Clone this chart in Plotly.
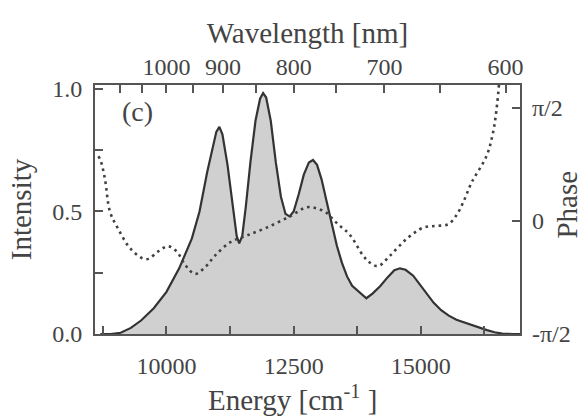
import plotly.graph_objects as go

# Intensity spectrum (energy in cm^-1, normalized intensity)
energy_int = [8700, 8900, 9100, 9300, 9500, 9750, 10000, 10250, 10500, 10650, 10800, 10900,
              10980, 11040, 11100, 11200, 11300, 11380, 11430, 11490, 11560, 11650, 11750,
              11840, 11900, 11960, 12050, 12150, 12250, 12340, 12420, 12500, 12600, 12700,
              12800, 12880, 12960, 13050, 13150, 13250, 13350, 13450, 13550, 13650, 13800,
              13930, 14050, 14200, 14350, 14480, 14590, 14700, 14850, 15000, 15100, 15250,
              15400, 15550, 15700, 15850, 16000, 16150, 16300, 16450, 16600, 16800, 16950]
intensity = [0.0, 0.0, 0.005, 0.025, 0.055, 0.105, 0.172, 0.268, 0.39, 0.5, 0.66, 0.76,
             0.825, 0.845, 0.815, 0.69, 0.52, 0.40, 0.37, 0.40, 0.52, 0.70, 0.87,
             0.96, 0.983, 0.965, 0.87, 0.70, 0.56, 0.49, 0.48, 0.50, 0.57, 0.65,
             0.70, 0.71, 0.69, 0.63, 0.54, 0.45, 0.36, 0.29, 0.235, 0.197, 0.168,
             0.146, 0.165, 0.195, 0.232, 0.26, 0.268, 0.262, 0.238, 0.198, 0.168, 0.128,
             0.097, 0.075, 0.058, 0.047, 0.038, 0.028, 0.016, 0.007, 0.002, 0.0, 0.0]

# Spectral phase (in units of pi/2)
energy_ph = [8660, 8700, 8790, 8890, 9050, 9300, 9600, 9840, 10030, 10200, 10370, 10560,
             10780, 10950, 11250, 11580, 11970, 12430, 12760, 12950, 13150, 13300, 13450,
             13600, 13870, 14000, 14160, 14390, 14720, 15050, 15300, 15540, 15700, 15830,
             16000, 16290, 16420, 16490, 16540]
phase = [0.57, 0.54, 0.37, 0.08, -0.07, -0.25, -0.34, -0.27, -0.225, -0.27, -0.39, -0.47,
         -0.40, -0.31, -0.19, -0.13, -0.06, 0.04, 0.12, 0.11, 0.07, 0.0, -0.06,
         -0.12, -0.31, -0.37, -0.40, -0.31, -0.16, -0.06, -0.045, -0.03, 0.05, 0.16,
         0.34, 0.57, 0.78, 0.99, 1.22]

# Axis ticks
energy_ticks = [8750, 10000, 11250, 12500, 13750, 15000, 16250]
energy_labels = ["", "10000", "", "12500", "", "15000", ""]
wl_ticks = [1100, 1050, 1000, 950, 900, 850, 800, 750, 700, 650, 600]
wl_labels = ["", "", "1000", "", "900", "", "800", "", "700", "", "600"]
int_ticks = [0, 0.25, 0.5, 0.75, 1.0]
int_labels = ["0.0", "", "0.5", "", "1.0"]
ph_ticks = [-1, 0, 1]
ph_labels = ["-π/2", "0", "π/2"]

xr = [8595, 16950]
FONT = "Liberation Serif, Times New Roman, serif"
AX = "#555555"
TXT = "#444444"
TICK = 24
TITLE = 29
L, R, T, B, W, H = 95, 65, 85, 85, 585, 419
PW, PH = W - L - R, H - T - B

fig = go.Figure()
fig.add_trace(go.Scatter(x=energy_int, y=intensity, mode="lines", fill="tozeroy",
                         fillcolor="#d0d0d0", line=dict(color="#333333", width=2.2),
                         xaxis="x", yaxis="y", showlegend=False))
fig.add_trace(go.Scatter(x=energy_ph, y=phase, mode="lines",
                         line=dict(color="#404040", width=2.6, dash="2.6px,4px", shape="spline"),
                         xaxis="x", yaxis="y2", showlegend=False))
# invisible trace to activate the top axis
fig.add_trace(go.Scatter(x=[1e7 / 800], y=[0.5], mode="markers", marker=dict(opacity=0),
                         xaxis="x2", yaxis="y", showlegend=False, hoverinfo="skip"))

axcommon = dict(showgrid=False, zeroline=False, ticks="inside", ticklen=8, tickwidth=1.5,
                tickcolor=AX, automargin=False,
                tickfont=dict(family=FONT, size=TICK, color=TXT))


def px_x(px):
    return (px - L) / PW


def px_y(py):
    return (H - B - py) / PH


fig.update_layout(
    width=W, height=H,
    margin=dict(l=L, r=R, t=T, b=B),
    paper_bgcolor="white", plot_bgcolor="white",
    font=dict(family=FONT, color=TXT),
    xaxis=dict(range=xr, tickvals=energy_ticks, ticktext=energy_labels,
               showline=True, linecolor=AX, linewidth=1.8, mirror=True,
               ticklabelstandoff=9, **axcommon),
    xaxis2=dict(range=xr, overlaying="x", side="top",
                tickvals=[1e7 / w for w in wl_ticks], ticktext=wl_labels,
                title=dict(text="Wavelength [nm]", font=dict(family=FONT, size=TITLE, color=TXT),
                           standoff=2),
                ticklabelstandoff=4, **axcommon),
    yaxis=dict(range=[0, 1.016], tickvals=int_ticks, ticktext=int_labels,
               showline=True, linecolor=AX, linewidth=1.8, mirror=True,
               title=dict(text="Intensity", font=dict(family=FONT, size=TITLE, color=TXT), standoff=12),
               ticklabelstandoff=6, **axcommon),
    yaxis2=dict(range=[-1, 1.2], overlaying="y", side="right",
                tickvals=ph_ticks, ticktext=ph_labels,
                ticklabelstandoff=11, **axcommon),
    annotations=[
        dict(text="(c)", x=0.1, y=0.965, xref="paper", yref="paper",
             xanchor="center", yanchor="top", showarrow=False,
             font=dict(family=FONT, size=28, color=TXT)),
        dict(text="Phase", x=px_x(567), y=0.52, xref="paper", yref="paper", textangle=-90,
             xanchor="center", yanchor="middle", showarrow=False,
             font=dict(family=FONT, size=TITLE, color=TXT)),
        dict(text="Energy [cm<sup>-1</sup> ]", x=px_x(292), y=px_y(398), xref="paper", yref="paper",
             xanchor="center", yanchor="middle", showarrow=False,
             font=dict(family=FONT, size=TITLE, color=TXT)),
    ],
)

fig.write_html("out.html")
